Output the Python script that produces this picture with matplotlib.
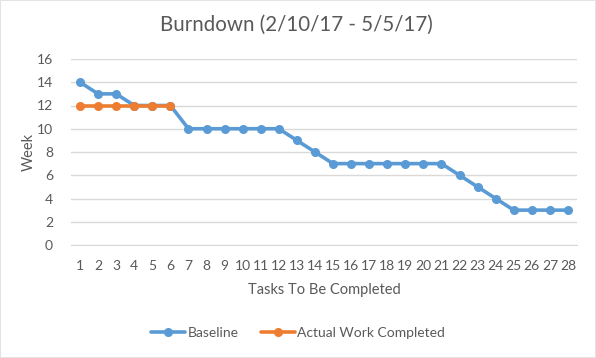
import matplotlib
matplotlib.use("Agg")
import matplotlib.pyplot as plt
from matplotlib.patches import Rectangle

tasks = list(range(1, 29))
baseline = [14, 13, 13, 12, 12, 12, 10, 10, 10, 10, 10, 10, 9, 8,
            7, 7, 7, 7, 7, 7, 7, 6, 5, 4, 3, 3, 3, 3]
actual_tasks = [1, 2, 3, 4, 5, 6]
actual = [12, 12, 12, 12, 12, 12]
y_ticks = [0, 2, 4, 6, 8, 10, 12, 14, 16]

BLUE = '#5B9BD5'
ORANGE = '#ED7D31'
TEXT = '#595959'
GRID = '#D9D9D9'

plt.rcParams['font.family'] = ['Lato', 'DejaVu Sans']

fig = plt.figure(figsize=(5.96, 3.58), dpi=100)
ax = fig.add_axes([71 / 596, 1 - 245 / 358, 506 / 596, 186 / 358])

ax.plot(tasks, baseline, color=BLUE, lw=2.6, marker='o', ms=5.5,
        label='Baseline', solid_capstyle='round')
ax.plot(actual_tasks, actual, color=ORANGE, lw=2.6, marker='o', ms=5.5,
        label='Actual Work Completed', solid_capstyle='round')

ax.set_xlim(0.5, 28.5)
ax.set_ylim(0, 16)
ax.set_yticks(y_ticks)
ax.set_xticks(tasks)
ax.grid(axis='y', color=GRID, lw=1)
ax.set_axisbelow(True)
for s in ['top', 'right', 'left']:
    ax.spines[s].set_visible(False)
ax.spines['bottom'].set_color(GRID)
ax.tick_params(length=0, colors=TEXT, labelsize=10)
ax.tick_params(axis='x', pad=11)
ax.tick_params(axis='y', pad=13)

fig.text(0.497, 1 - 25 / 358, 'Burndown (2/10/17 - 5/5/17)', color=TEXT,
         fontsize=14.8, ha='center', va='center')
ax.set_xlabel('Tasks To Be Completed', color=TEXT, fontsize=10.5, labelpad=8)
ax.set_ylabel('Week', color=TEXT, fontsize=10.5, labelpad=1)

leg = fig.legend(loc='center', bbox_to_anchor=(0.5, 1 - 333 / 358), ncol=2,
                 frameon=False, fontsize=10, handlelength=2.5,
                 handletextpad=0.15, columnspacing=1.6)
for t in leg.get_texts():
    t.set_color(TEXT)

fig.patches.append(Rectangle((0, 0), 1, 1, transform=fig.transFigure,
                             fill=False, edgecolor='#E3E3E3', lw=1.5))

fig.savefig('out.png', dpi=100)
